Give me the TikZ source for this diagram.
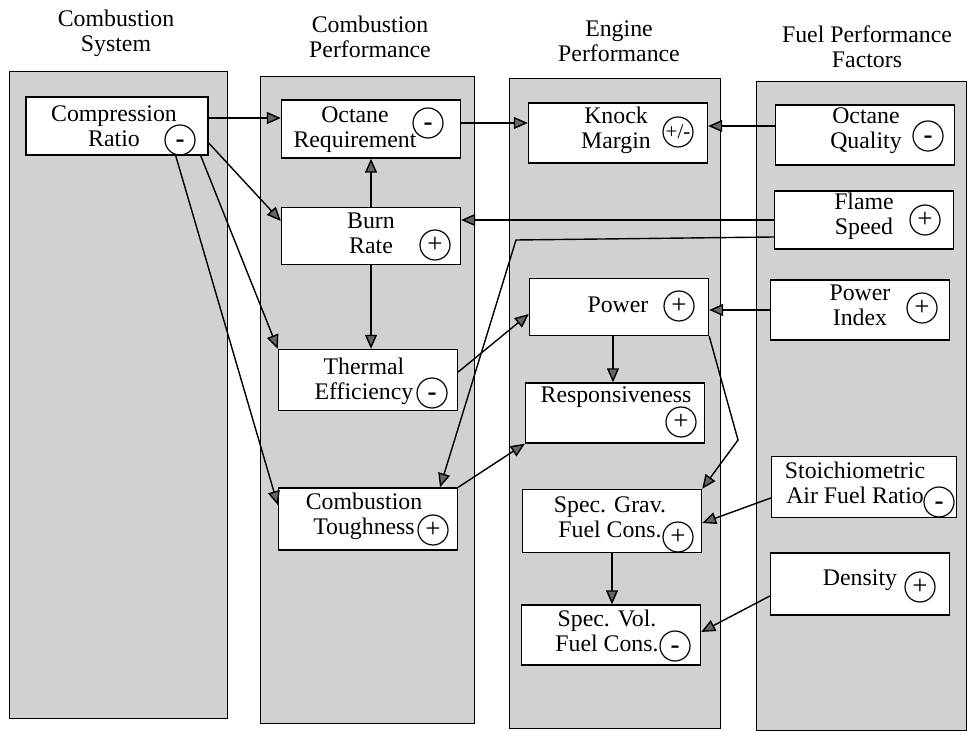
\documentclass[tikz,border=0pt]{standalone}
\usepackage{fontspec}
\setmainfont{Liberation Serif}
\usetikzlibrary{arrows.meta,positioning,calc}

\newcommand{\minus}{\vphantom{+}\textbf{-}}

\begin{document}
\begin{tikzpicture}[
    x=0.5pt, y=-0.5pt,
    % --- Column panels and their titles ---
    panel/.style={draw, line width=0.5pt, fill=black!18},
    colhead/.style={align=center, inner sep=0pt, font=\fontsize{11.9}{12.5}\selectfont},
    % --- Factor boxes ---
    factor/.style={draw, fill=white, line width=0.7pt, minimum width=89.5pt,
                   minimum height=30pt, inner sep=0pt},
    lbl/.style={align=center, inner sep=0pt, font=\fontsize{11.9}{12.5}\selectfont},
    signmark/.style={draw, circle, line width=0.6pt, minimum size=15pt, inner sep=0pt,
                     font=\fontsize{13.5}{13.5}\selectfont},
    % --- Influence arrows ---
    arr/.style={line width=0.7pt, -{Triangle[length=7pt, width=6pt, fill=black!60]}},
]
\useasboundingbox (0,0) rectangle (969,731);

% ============================================================
% Columns
% ============================================================
\draw[panel] (9,72)    rectangle (227,718);
\draw[panel] (260,77)  rectangle (474,723);
\draw[panel] (509,79)  rectangle (720,728);
\draw[panel] (756,82)  rectangle (966,730);

\node[colhead] (h1) at (116,33) {Combustion\\System};
\node[colhead] (h2) at (370,37) {Combustion\\Performance};
\node[colhead] (h3) at (619,41) {Engine\\Performance};
\node[colhead] (h4) at (867,47) {Fuel Performance\\Factors};

% ============================================================
% Combustion system
% ============================================================
\node[factor, minimum width=91pt, minimum height=29pt] (cr) at (117,126) {};
\node[lbl] (cr-t) at (114,126) {Compression\\Ratio};
\node[signmark] (cr-s) at (180,140) {\minus};

% ============================================================
% Combustion performance
% ============================================================
\node[factor, minimum height=29pt] (or) at (371,129) {};
\node[lbl] (or-t) at (355,130) {Octane\\Requirement};
\node[signmark] (or-s) at (428,123) {\minus};

\node[factor, minimum height=28.5pt] (br) at (371,236) {};
\node[lbl] (br-t) at (371,233) {Burn\\Rate};
\node[signmark] (br-s) at (435,245) {+};

\node[factor, minimum height=30.5pt] (te) at (368,380) {};
\node[lbl] (te-t) at (364,381) {Thermal\\Efficiency};
\node[signmark] (te-s) at (432,393) {\minus};

\node[factor, minimum height=31pt] (ct) at (368,519) {};
\node[lbl] (ct-t) at (364,516) {Combustion\\Toughness};
\node[signmark] (ct-s) at (433,530) {+};

% ============================================================
% Engine performance
% ============================================================
\node[factor] (km) at (618,133) {};
\node[lbl] (km-t) at (616,130) {Knock\\Margin};
\node[signmark, font=\fontsize{10.5}{10.5}\selectfont] (km-s) at (678,132) {+/-};

\node[factor, minimum height=28.5pt] (pw) at (619,307) {};
\node[lbl] (pw-t) at (618,305) {Power};
\node[signmark] (pw-s) at (679,306) {+};

\node[factor] (rs) at (615,413) {};
\node[lbl] (rs-t) at (616,397) {Responsiveness};
\node[signmark] (rs-s) at (681,422) {+};

\node[factor, minimum height=31.5pt] (sg) at (612,521) {};
\node[lbl] (sg-t) at (610,517) {Spec. Grav.\\Fuel Cons.};
\node[signmark] (sg-s) at (678,537) {+};

\node[factor] (sv) at (611,635) {};
\node[lbl] (sv-t) at (607,631) {Spec. Vol.\\Fuel Cons.};
\node[signmark] (sv-s) at (675,646) {\minus};

% ============================================================
% Fuel performance factors
% ============================================================
\node[factor] (oq) at (865,135) {};
\node[lbl] (oq-t) at (866,131) {Octane\\Quality};
\node[signmark] (oq-s) at (928,136) {\minus};

\node[factor, minimum height=29pt] (fs) at (864,220) {};
\node[lbl] (fs-t) at (864,216) {Flame\\Speed};
\node[signmark] (fs-s) at (925,220) {+};

\node[factor] (pi) at (860,310) {};
\node[lbl] (pi-t) at (860,305) {Power\\Index};
\node[signmark] (pi-s) at (922,308) {+};

\node[factor, minimum width=92.5pt, minimum height=30.5pt] (st) at (864,487) {};
\node[lbl] (st-t) at (855,483) {Stoichiometric\\Air Fuel Ratio};
\node[signmark] (st-s) at (939,502) {\minus};

\node[factor, minimum height=31pt] (dn) at (860,584) {};
\node[lbl] (dn-t) at (860,580) {Density};
\node[signmark] (dn-s) at (920,587) {+};

% ============================================================
% Influences
% ============================================================
\coordinate (fsbend) at (516,240);
\coordinate (pwbend) at (738,440);

% from compression ratio
\draw[arr] ([yshift=4pt]cr.east) -- ([yshift=4pt]cr.east -| or.west);
\draw[arr] ([yshift=-8.5pt]cr.east) -- ([yshift=7.5pt]br.west);
\draw[arr] ([xshift=-4pt]cr.south east) -- (te.north west);
\draw[arr] ([xshift=-16.5pt]cr.south east) -- ([yshift=7pt]ct.west);

% inside combustion performance
\draw[arr] (br.north) -- (or.south);
\draw[arr] (br.south) -- (br.south |- te.north);

% into engine performance
\draw[arr] ([yshift=3pt]or.east) -- ([yshift=3pt]or.east -| km.west);
\draw[arr] ([yshift=4pt]te.east) -- ([yshift=-3.5pt]pw.west);
\draw[arr] (ct.north east) -- (rs.south west);
\draw[arr] ([xshift=-3pt]pw.south) -- ([xshift=-3pt]pw.south |- rs.north);
\draw[arr] (pw.south east) -- (pwbend) -- (sg.north east);
\draw[arr] (sg.south) -- (sg.south |- sv.north);

% from fuel performance factors
\draw[arr] ([yshift=4.5pt]oq.west) -- ([yshift=4.5pt]oq.west -| km.east);
\draw[arr] (fs.west) -- (fs.west -| br.east);
\draw[arr] ([yshift=-8.5pt]fs.west) -- (fsbend) -- ([xshift=36pt]ct.north);
\draw[arr] (pi.west) -- (pi.west -| pw.east);
\draw[arr] ([yshift=-5.5pt]st.west) -- ([yshift=-1pt]sg.east);
\draw[arr] ([yshift=-6pt]dn.west) -- ([yshift=1.5pt]sv.east);

\end{tikzpicture}
\end{document}
